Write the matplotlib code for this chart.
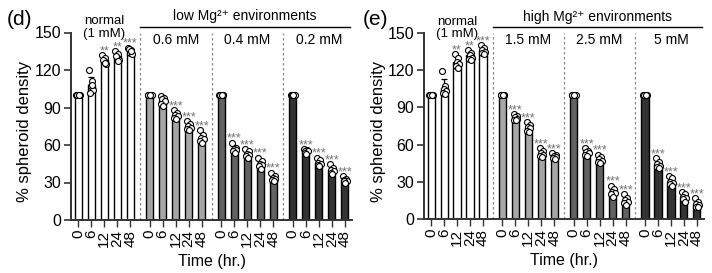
import numpy as np
import matplotlib
matplotlib.use("Agg")
import matplotlib.pyplot as plt

plt.rcParams['font.family'] = ['Liberation Sans', 'DejaVu Sans']

times = ["0", "6", "12", "24", "48"]

# ---------- panel (d) ----------
d_groups = ["normal", "0.6 mM", "0.4 mM", "0.2 mM"]
d_means = [
    [100, 108, 128, 131, 135],
    [100, 96, 84, 75, 66],
    [100, 57, 53, 45, 34],
    [100, 55, 46, 40, 32],
]
d_dots = [
    [[100]*6, [120, 111, 107, 104, 102, 108], [132, 130, 127, 125, 128, 126],
     [135, 133, 130, 128, 131, 127], [138, 136, 134, 133, 137, 135]],
    [[100]*6, [99, 98, 97, 95, 93, 91], [88, 86, 84, 83, 82, 81],
     [79, 77, 75, 74, 73, 72], [72, 68, 66, 65, 63, 62]],
    [[100]*6, [62, 58, 57, 56, 55, 54], [57, 55, 53, 52, 51, 50],
     [50, 47, 45, 44, 43, 41], [38, 35, 34, 33, 32, 31]],
    [[100]*6, [57, 56, 55, 55, 54, 53], [50, 48, 46, 45, 44, 43],
     [45, 42, 40, 39, 38, 37], [35, 33, 32, 31, 31, 30]],
]
d_stars = [
    ["", "", "**", "**", "***"],
    ["", "", "***", "***", "***"],
    ["", "***", "***", "***", "***"],
    ["", "***", "***", "***", "***"],
]

# ---------- panel (e) ----------
e_groups = ["normal", "1.5 mM", "2.5 mM", "5 mM"]
e_means = [
    [100, 106, 127, 132, 136],
    [100, 82, 74, 53, 51],
    [100, 54, 48, 22, 15],
    [100, 44, 30, 18, 12],
]
e_dots = [
    [[100]*6, [119, 107, 105, 103, 102, 101], [133, 130, 127, 125, 123, 122],
     [136, 134, 132, 130, 129, 128], [140, 138, 136, 135, 134, 133]],
    [[100]*6, [85, 83, 82, 81, 80, 80], [78, 76, 74, 73, 71, 70],
     [57, 55, 53, 52, 51, 50], [53, 52, 51, 50, 49, 48]],
    [[100]*6, [57, 55, 54, 53, 52, 51], [52, 50, 48, 47, 46, 45],
     [27, 24, 22, 21, 20, 18], [20, 17, 15, 14, 13, 11]],
    [[100]*6, [49, 46, 44, 43, 42, 41], [35, 33, 30, 29, 28, 27],
     [22, 20, 18, 17, 16, 14], [17, 14, 12, 11, 10, 10]],
]
e_stars = [
    ["", "", "**", "**", "***"],
    ["", "***", "***", "***", "***"],
    ["", "***", "***", "***", "***"],
    ["", "***", "***", "***", "***"],
]

bar_colors = ["#ffffff", "#a6a6a6", "#626262", "#343434"]
jitter = [-0.14, 0.1, -0.04, 0.15, -0.1, 0.05]
GAP = 5.5
W = 712 / 100
H = 273 / 100

fig = plt.figure(figsize=(W, H), dpi=100)


def draw_panel(ax, groups, means, dots, stars, header, letter, letter_x, ylab_x):
    xs_all, labels = [], []
    for g in range(4):
        xs = [g * GAP + i for i in range(5)]
        sds = [np.std(d, ddof=1) for d in dots[g]]
        ax.bar(xs, means[g], width=0.55, color=bar_colors[g], edgecolor='black',
               linewidth=1.0, zorder=2)
        ax.errorbar(xs, means[g], yerr=sds, fmt='none', ecolor='black',
                    elinewidth=0.9, capsize=2, capthick=0.9, zorder=3)
        for i, x in enumerate(xs):
            vals = dots[g][i]
            jx = [x + jitter[k % len(jitter)] for k in range(len(vals))]
            ax.plot(jx, vals, 'o', ms=4.3, mfc='white', mec='black', mew=0.8,
                    zorder=4, clip_on=False)
            if stars[g][i]:
                ax.text(x, max(vals) + 0.5, stars[g][i], ha='center', va='baseline',
                        fontsize=9, color='#727272', zorder=5)
        xs_all += xs
        labels += times
    for g in range(1, 4):
        xd = g * GAP - 0.75
        ax.plot([xd, xd], [0, 150], ls=(0, (2, 2)), color='#8a8a8a', lw=0.9,
                zorder=1, clip_on=False)
    ax.set_xlim(-0.55, 3 * GAP + 4.55)
    ax.set_ylim(0, 150)
    ax.set_yticks([0, 30, 60, 90, 120, 150])
    ax.set_xticks(xs_all)
    ax.set_xticklabels(labels, rotation=90, fontsize=11)
    ax.tick_params(axis='y', labelsize=11.5, length=5, width=1.2, color='#333333', pad=2)
    ax.tick_params(axis='x', length=5, width=1.0, color='#333333', pad=2)
    for s in ['top', 'right']:
        ax.spines[s].set_visible(False)
    for s in ['left', 'bottom']:
        ax.spines[s].set_linewidth(1.4)
        ax.spines[s].set_color('#333333')
    ax.set_xlabel("Time (hr.)", fontsize=11.5, labelpad=5)
    # group headers
    ax.text(2, 159, "normal", ha='center', va='center', fontsize=9.5)
    ax.text(2, 149, "(1 mM)", ha='center', va='center', fontsize=9.5)
    for g in range(1, 4):
        ax.text(g * GAP + 2, 144, groups[g], ha='center', va='center', fontsize=10)
    x0 = GAP - 0.75
    x1 = 3 * GAP + 4.4
    ax.plot([x0, x1], [154.5, 154.5], color='black', lw=1.0, clip_on=False)
    ax.text((x0 + x1) / 2, 163, header, ha='center', va='center', fontsize=10)
    fig.text(letter_x, 0.93, letter, ha='center', va='center', fontsize=15)
    fig.text(ylab_x, 0.52, "% spheroid density", rotation=90, ha='center',
             va='center', fontsize=12)


ax1 = fig.add_axes([71 / 712, 1 - 220 / 273, (352 - 71) / 712, 187.5 / 273])
draw_panel(ax1, d_groups, d_means, d_dots, d_stars, "low Mg²⁺ environments",
           "(d)", 20 / 712, 25 / 712)
ax2 = fig.add_axes([424 / 712, 1 - 219 / 273, (704 - 424) / 712, 186 / 273])
draw_panel(ax2, e_groups, e_means, e_dots, e_stars, "high Mg²⁺ environments",
           "(e)", 375 / 712, 378 / 712)

fig.savefig("out.png", dpi=100)
